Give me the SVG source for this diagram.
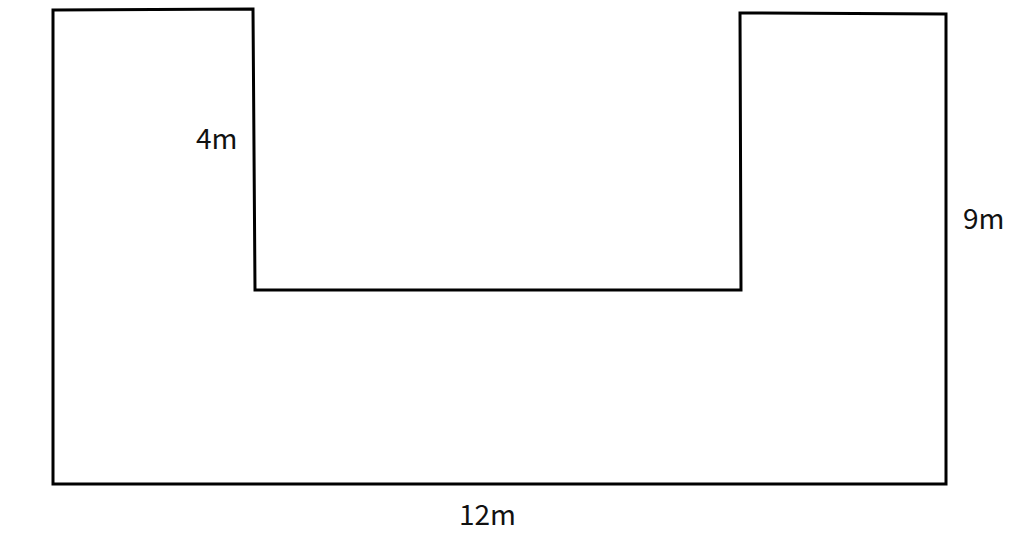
<svg xmlns="http://www.w3.org/2000/svg" width="1024" height="533" viewBox="0 0 1024 533">
<style>
.shape{fill:none;stroke:#000;stroke-width:3;stroke-linejoin:miter}
.lbl{font-family:"Noto Sans CJK SC","Noto Sans",sans-serif;font-size:28px;fill:#111}
</style>
<rect width="1024" height="533" fill="#fff"/>
<g id="shape">
<path class="shape" d="M53,10 L253,9 L255,290 L741,290 L740,13 L946,14 L946,484 L53,484 Z"/>
</g>
<g id="labels">
<text class="lbl" x="196" y="149">4m</text>
<text class="lbl" x="963" y="229">9m</text>
<text class="lbl" x="459" y="525">12m</text>
</g>
</svg>
